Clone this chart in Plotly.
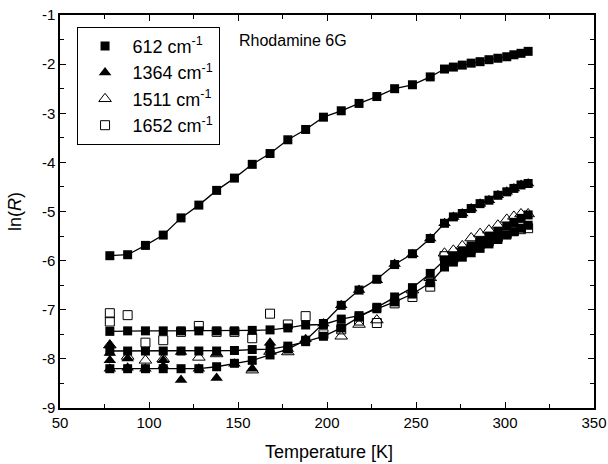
import plotly.graph_objects as go

# Temperatures [K]
t_low = [78, 88, 98, 108, 118, 128, 138, 148, 158, 168, 178, 188, 198, 208, 218, 228, 238, 248, 258]
t_high = [266, 271, 276, 281, 286, 291, 296, 301, 305, 309, 313]
t_all = t_low + t_high

# 612 cm-1 band, ln(R)
t612 = t_low + t_high
r612 = [-5.90, -5.88, -5.69, -5.48, -5.13, -4.87, -4.57, -4.32, -4.04, -3.82, -3.54, -3.33, -3.08,
        -2.95, -2.80, -2.66, -2.50, -2.42, -2.26,
        -2.10, -2.06, -2.02, -1.98, -1.95, -1.91, -1.88, -1.85, -1.81, -1.78, -1.74]

# 1364 cm-1 band (measured points, repeated temperatures are repeat runs)
t1364 = [78, 78, 78, 78, 88, 88, 98, 108, 108, 118, 118, 128, 138, 138, 148, 158, 168, 178, 188,
         198, 208, 218, 228, 238, 248, 258] + t_high
r1364 = [-7.72, -7.88, -8.03, -8.20, -7.99, -8.18, -8.20, -8.03, -8.15, -8.43, -7.86, -8.20, -8.39,
         -7.88, -8.10, -8.20, -7.67, -7.80, -7.60, -7.28, -6.91, -6.60, -6.40, -6.07, -5.87, -5.55,
         -5.24, -5.11, -5.04, -4.94, -4.84, -4.77, -4.67, -4.60, -4.53, -4.46, -4.43]

# 1511 cm-1 band
t1511 = [78, 88, 98, 108, 128, 138, 158, 168, 178, 208, 218, 228, 248, 258] + t_high
r1511 = [-7.72, -7.95, -8.03, -8.00, -7.97, -7.90, -8.23, -7.85, -7.86, -7.54, -7.30, -7.21,
         -6.60, -6.35, -5.85, -5.79, -5.70, -5.54, -5.45, -5.38, -5.28, -5.16, -5.10, -5.05, -5.05]

# 1652 cm-1 band
t1652 = [78, 78, 88, 98, 108, 118, 128, 138, 148, 158, 168, 178, 188, 198, 208, 218, 228,
         238, 248, 258] + t_high
r1652 = [-7.07, -7.24, -7.11, -7.67, -7.62, -7.45, -7.33, -7.45, -7.45, -7.58, -7.08, -7.30,
         -7.13, -7.50, -7.40, -7.22, -7.27, -6.87, -6.74, -6.53,
         -5.91, -5.95, -5.85, -5.76, -5.66, -5.60, -5.52, -5.45, -5.40, -5.36, -5.34]

# Smoothed curves for the three high-frequency bands
fit1364 = [-8.20, -8.20, -8.20, -8.20, -8.20, -8.20, -8.16, -8.09, -8.03, -7.92, -7.80, -7.62,
           -7.28, -6.91, -6.60, -6.38, -6.08, -5.86, -5.55,
           -5.24, -5.11, -5.04, -4.94, -4.84, -4.77, -4.67, -4.60, -4.53, -4.46, -4.43]
fit1511 = [-7.84, -7.84, -7.84, -7.84, -7.84, -7.84, -7.84, -7.83, -7.81, -7.80, -7.74, -7.65,
           -7.54, -7.37, -7.15, -6.95, -6.74, -6.55, -6.26,
           -5.99, -5.90, -5.80, -5.70, -5.60, -5.50, -5.40, -5.30, -5.22, -5.14, -5.07]
fit1652 = [-7.44, -7.43, -7.43, -7.43, -7.43, -7.43, -7.43, -7.43, -7.42, -7.41, -7.37, -7.31,
           -7.30, -7.19, -7.12, -6.98, -6.84, -6.68, -6.45,
           -6.13, -6.03, -5.93, -5.84, -5.75, -5.66, -5.57, -5.48, -5.41, -5.34, -5.28]

x_ticks = [50, 100, 150, 200, 250, 300, 350]
y_ticks = [-9, -8, -7, -6, -5, -4, -3, -2, -1]
y_ticktext = ["-9", "-8", "-7", "-6", "-5", "-4", "-3", "-2", "-1"]

FONT = "Arial, Liberation Sans, sans-serif"
MS = 9
LINE = dict(color="black", width=1.3)

fig = go.Figure()

# Connecting curves (drawn first, no legend entry)
for xs, ys in ((t612, r612), (t_all, fit1652), (t_all, fit1511), (t_all, fit1364)):
    fig.add_trace(go.Scatter(x=xs, y=ys, mode="lines", line=LINE,
                             showlegend=False, hoverinfo="skip"))

fig.add_trace(go.Scatter(
    x=t612, y=r612, mode="markers", name="612 cm<sup>-1</sup>",
    marker=dict(symbol="square", size=MS, color="black")))
fig.add_trace(go.Scatter(
    x=t1364, y=r1364, mode="markers", name="1364 cm<sup>-1</sup>",
    marker=dict(symbol="triangle-up", size=MS + 2, color="black")))
fig.add_trace(go.Scatter(
    x=t1511, y=r1511, mode="markers", name="1511 cm<sup>-1</sup>",
    marker=dict(symbol="triangle-up-open", size=MS + 2, color="black", line=dict(width=1))))
fig.add_trace(go.Scatter(
    x=t1652, y=r1652, mode="markers", name="1652 cm<sup>-1</sup>",
    marker=dict(symbol="square-open", size=MS, color="black", line=dict(width=1))))

# Fitted squares on top of the data
for yfit in (fit1652, fit1511, fit1364):
    fig.add_trace(go.Scatter(
        x=t_all, y=yfit, mode="markers", showlegend=False, hoverinfo="skip",
        marker=dict(symbol="square", size=MS, color="black")))

fig.add_annotation(x=149.5, y=-1.52, xref="x", yref="y", text="Rhodamine 6G",
                   showarrow=False, xanchor="left", yanchor="middle",
                   font=dict(family=FONT, size=16, color="black"))

# Axis titles
fig.add_annotation(x=0.503, y=-0.112, xref="paper", yref="paper", text="Temperature [K]",
                   showarrow=False, xanchor="center", yanchor="middle",
                   font=dict(family=FONT, size=18, color="black"))
fig.add_annotation(x=-0.085, y=0.50, xref="paper", yref="paper", text="ln(<i>R</i>)",
                   showarrow=False, xanchor="center", yanchor="middle", textangle=-90,
                   font=dict(family=FONT, size=18, color="black"))

axis_common = dict(
    showline=True, linecolor="black", linewidth=1.5, mirror="allticks",
    ticks="inside", ticklen=6, tickwidth=1.3, tickcolor="black",
    showgrid=False, zeroline=False, automargin=False, ticklabeloverflow="allow",
    tickfont=dict(family=FONT, size=15, color="black"),
)

fig.update_xaxes(
    range=[50, 350], tickvals=x_ticks,
    minor=dict(dtick=25, tick0=50, ticks="inside", ticklen=4, tickcolor="black", tickwidth=1.3),
    **axis_common)
fig.update_yaxes(
    range=[-9, -1], tickvals=y_ticks, ticktext=y_ticktext,
    minor=dict(dtick=0.5, tick0=-9, ticks="inside", ticklen=4, tickcolor="black", tickwidth=1.3),
    **axis_common)

fig.update_layout(
    width=608, height=464,
    margin=dict(l=60, r=14, t=15, b=56),
    paper_bgcolor="white", plot_bgcolor="white",
    font=dict(family=FONT, color="black"),
    legend=dict(x=0.031, y=0.97, xanchor="left", yanchor="top",
                bgcolor="white", bordercolor="black", borderwidth=1,
                font=dict(family=FONT, size=18, color="black"),
                tracegroupgap=0, itemwidth=45),
)

fig.write_html("out.html")
